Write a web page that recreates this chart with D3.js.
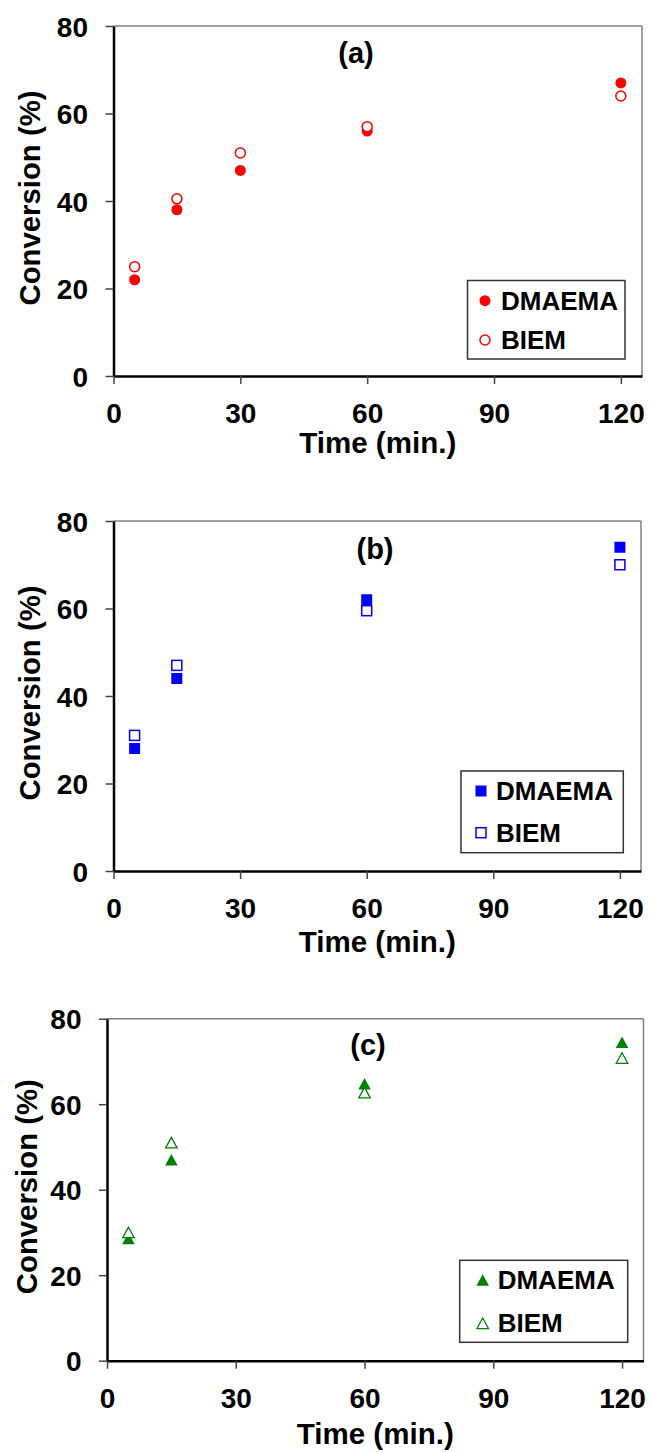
<!DOCTYPE html>
<html>
<head>
<meta charset="utf-8">
<script src="https://cdn.jsdelivr.net/npm/d3@7"></script>
<style>
  html, body { margin: 0; padding: 0; background: #fff; }
  svg { display: block; }
  text { font-family: "Liberation Sans", Arial, sans-serif; font-weight: bold; fill: #000; }
</style>
</head>
<body>
<svg id="chart" width="651" height="1452"></svg>
<script>
// ---- data ----
const xTicks = [0, 30, 60, 90, 120];
const yTicks = [0, 20, 40, 60, 80];
const seriesNames = ["DMAEMA", "BIEM"];

const timesA = [5, 15, 30, 60, 120];
const dmaemaA = [22, 38, 47, 56, 67];
const biemA = [25, 40.5, 51, 57, 64];

const timesB = [5, 15, 60, 120];
const dmaemaB = [28, 44, 62, 74];
const biemB = [31, 47, 59.5, 70];

const timesC = [5, 15, 60, 120];
const dmaemaC = [28.6, 47, 64.8, 74.5];
const biemC = [30, 51, 62.7, 70.8];

const panelLabels = ["(a)", "(b)", "(c)"];
const xTitle = "Time (min.)";
const yTitle = "Conversion (%)";

// ---- layout ----
const panels = [
  { label: panelLabels[0], times: timesA, s1: dmaemaA, s2: biemA, color: "#ff0000", shape: "circle",
    l: 113.5, r: 642, t: 26, b: 376, labX: 356, labY: 63, xtY: 453, ytX: 39.5,
    leg: { x: 467.5, y: 280.5, w: 157.5, h: 78.5, mx: 485, tx: 501, r1: 300.7, r2: 340 } },
  { label: panelLabels[1], times: timesB, s1: dmaemaB, s2: biemB, color: "#0000ff", shape: "square",
    l: 113.5, r: 641, t: 521, b: 871, labX: 375, labY: 559, xtY: 952, ytX: 39.5,
    leg: { x: 461, y: 771, w: 162.3, h: 81.7, mx: 481, tx: 496, r1: 791, r2: 832.7 } },
  { label: panelLabels[2], times: timesC, s1: dmaemaC, s2: biemC, color: "#008000", shape: "triangle",
    l: 107, r: 643.5, t: 1018.7, b: 1360.7, labX: 368, labY: 1055, xtY: 1444, ytX: 37,
    leg: { x: 459.7, y: 1260.3, w: 168, h: 82, mx: 482.7, tx: 497.7, r1: 1280, r2: 1323.3 } }
];

const svg = d3.select("#chart");

function marker(g, shape, cx, cy, color, filled) {
  if (shape === "circle") {
    g.append("circle").attr("cx", cx).attr("cy", cy)
      .attr("r", filled ? 5.5 : 5)
      .attr("fill", filled ? color : "#fff")
      .attr("stroke", color).attr("stroke-width", filled ? 0 : 1.5);
  } else if (shape === "square") {
    const s = filled ? 11 : 10;
    g.append("rect").attr("x", cx - s / 2).attr("y", cy - s / 2)
      .attr("width", s).attr("height", s)
      .attr("fill", filled ? color : "#fff")
      .attr("stroke", color).attr("stroke-width", filled ? 0 : 1.5);
  } else {
    const w = filled ? 12.5 : 11.5, h = filled ? 11.5 : 10.5;
    const pts = [[cx, cy - h / 2], [cx + w / 2, cy + h / 2], [cx - w / 2, cy + h / 2]];
    g.append("path").attr("d", d3.line()(pts) + "Z")
      .attr("fill", filled ? color : "#fff")
      .attr("stroke", color).attr("stroke-width", filled ? 0 : 1.3)
      .attr("stroke-linejoin", "miter");
  }
}

panels.forEach(p => {
  const x = d3.scaleLinear().domain([0, 125]).range([p.l, p.r]);
  const y = d3.scaleLinear().domain([0, 80]).range([p.b, p.t]);
  const g = svg.append("g");

  // top & right frame (thin gray)
  g.append("line").attr("x1", p.l).attr("x2", p.r).attr("y1", p.t).attr("y2", p.t)
    .attr("stroke", "#808080").attr("stroke-width", 1.5);
  g.append("line").attr("x1", p.r).attr("x2", p.r).attr("y1", p.t).attr("y2", p.b)
    .attr("stroke", "#808080").attr("stroke-width", 1.5);

  // y axis
  const ya = g.append("g").attr("transform", `translate(${p.l},0)`)
    .call(d3.axisLeft(y).tickValues(yTicks).tickSize(8).tickSizeOuter(0).tickPadding(17.5));
  ya.select(".domain").attr("stroke", "#000").attr("stroke-width", 2.5);
  ya.selectAll(".tick line").attr("stroke", "#444").attr("stroke-width", 1.5);
  ya.selectAll(".tick text").attr("font-size", 28).attr("dy", "0.36em")
    .style("font-family", "'Liberation Sans', Arial, sans-serif").style("font-weight", "bold").attr("fill", "#000");

  // x axis
  const xa = g.append("g").attr("transform", `translate(0,${p.b})`)
    .call(d3.axisBottom(x).tickValues(xTicks).tickSize(8).tickSizeOuter(0));
  xa.select(".domain").attr("stroke", "#000").attr("stroke-width", 2.5);
  xa.selectAll(".tick line").attr("stroke", "#444").attr("stroke-width", 1.5);
  xa.selectAll(".tick text").attr("font-size", 28).attr("y", 47).attr("dy", 0)
    .style("font-family", "'Liberation Sans', Arial, sans-serif").style("font-weight", "bold").attr("fill", "#000");

  // axis titles
  g.append("text").attr("x", (p.l + p.r) / 2).attr("y", p.xtY)
    .attr("text-anchor", "middle").attr("font-size", 29)
    .attr("textLength", 157).attr("lengthAdjust", "spacingAndGlyphs")
    .text(xTitle);
  g.append("text")
    .attr("transform", `translate(${p.ytX},${(p.t + p.b) / 2 - 3}) rotate(-90)`)
    .attr("text-anchor", "middle").attr("font-size", 30)
    .attr("textLength", 215).attr("lengthAdjust", "spacingAndGlyphs")
    .text(yTitle);

  // panel label
  g.append("text").attr("x", p.labX).attr("y", p.labY).attr("text-anchor", "middle")
    .attr("font-size", 29).text(p.label);

  // data: filled series first, open series on top
  p.times.forEach((t, i) => marker(g, p.shape, x(t), y(p.s1[i]), p.color, true));
  p.times.forEach((t, i) => marker(g, p.shape, x(t), y(p.s2[i]), p.color, false));

  // legend
  const L = p.leg;
  g.append("rect").attr("x", L.x).attr("y", L.y).attr("width", L.w).attr("height", L.h)
    .attr("fill", "#fff").attr("stroke", "#333").attr("stroke-width", 1.5);
  [L.r1, L.r2].forEach((ry, k) => {
    marker(g, p.shape, L.mx, ry, p.color, k === 0);
    g.append("text").attr("x", L.tx).attr("y", ry).attr("dy", "0.35em")
      .attr("font-size", 26).text(seriesNames[k]);
  });
});
</script>
</body>
</html>
